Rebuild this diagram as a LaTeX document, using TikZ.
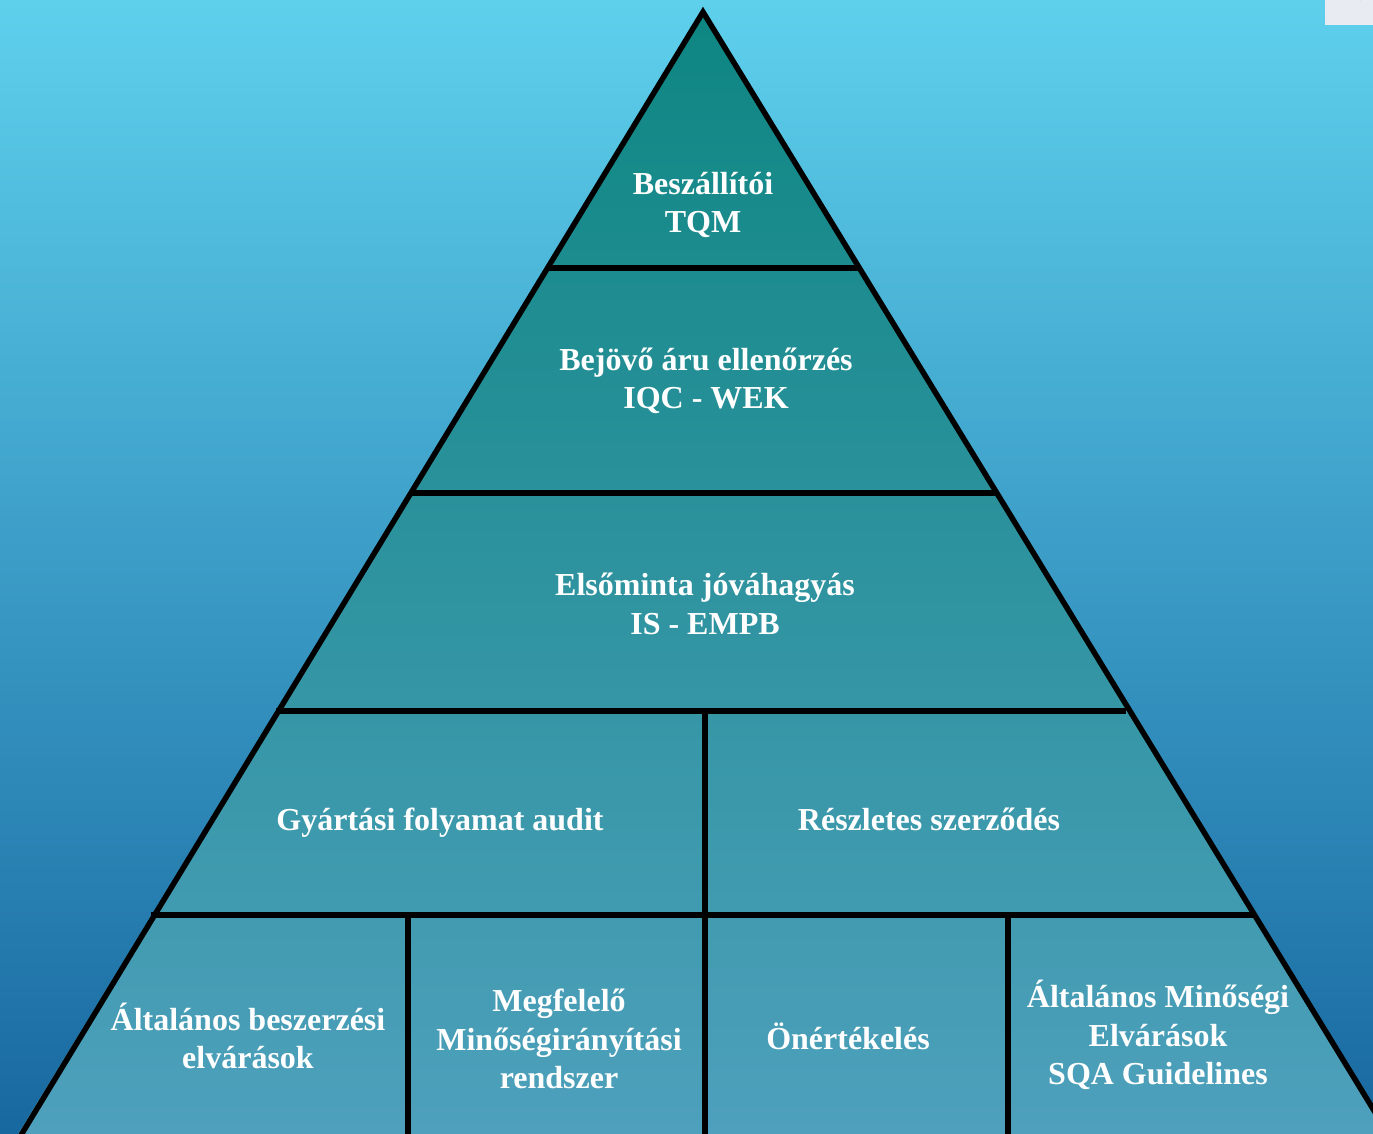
\documentclass[tikz,border=0pt]{standalone}
\usepackage{fontspec}
\setmainfont{Liberation Serif}
\definecolor{bgtop}{RGB}{94,208,236}
\definecolor{bgbot}{RGB}{24,104,160}
\definecolor{pytop}{RGB}{14,134,130}
\definecolor{pybot}{RGB}{78,160,188}
\definecolor{logobg}{RGB}{232,236,242}
\definecolor{logoln}{RGB}{120,140,170}
\begin{document}
\begin{tikzpicture}[x=1pt,y=-1pt,
  lbl/.style={text=white,font=\bfseries\fontsize{32}{38.5}\selectfont,align=center,inner sep=0pt},
  sep/.style={line width=5.5pt,black}]
\useasboundingbox (0,0) rectangle (1373,1134);
\clip (0,0) rectangle (1373,1134);
% background
\shade[top color=bgtop,bottom color=bgbot] (0,0) rectangle (1373,1134);
% pyramid fill
\shade[top color=pytop,bottom color=pybot] (703,12) -- (18,1134) -- (1388,1134) -- cycle;
% separators
\draw[sep] (549,268) -- (859,268);
\draw[sep] (411,493) -- (998,493);
\draw[sep] (276,711) -- (1126,711);
\draw[sep] (151,915) -- (1254,915);
\draw[sep] (705,711) -- (705,1134);
\draw[sep] (408,915) -- (408,1134);
\draw[sep] (1008,915) -- (1008,1134);
% outline
\draw[sep,line join=miter] (18,1140) -- (703,12) -- (1392,1140);
% corner logo fragment
\fill[logobg] (1325,0) rectangle (1373,25);
\draw[logoln,line width=1.5pt] (1360,0) arc[start angle=180,end angle=250,radius=14];
% labels
\node[lbl] (t1) at (703,205) {Beszállítói\\TQM};
\node[lbl] (t2) at (706,381) {Bejövő áru ellenőrzés\\IQC - WEK};
\node[lbl] (t3) at (705,604) {Elsőminta jóváhagyás\\IS - EMPB};
\node[lbl] (t4) at (440,823) {Gyártási folyamat audit};
\node[lbl] (t5) at (929,819) {Részletes szerződés};
\node[lbl] (t6) at (248,1036) {Általános beszerzési\\elvárások};
\node[lbl] (t7) at (559,1039) {Megfelelő\\Minőségirányítási\\rendszer};
\node[lbl] (t8) at (848,1036) {Önértékelés};
\node[lbl] (t9) at (1158,1035) {Általános Minőségi\\Elvárások\\SQA Guidelines};
\end{tikzpicture}
\end{document}
